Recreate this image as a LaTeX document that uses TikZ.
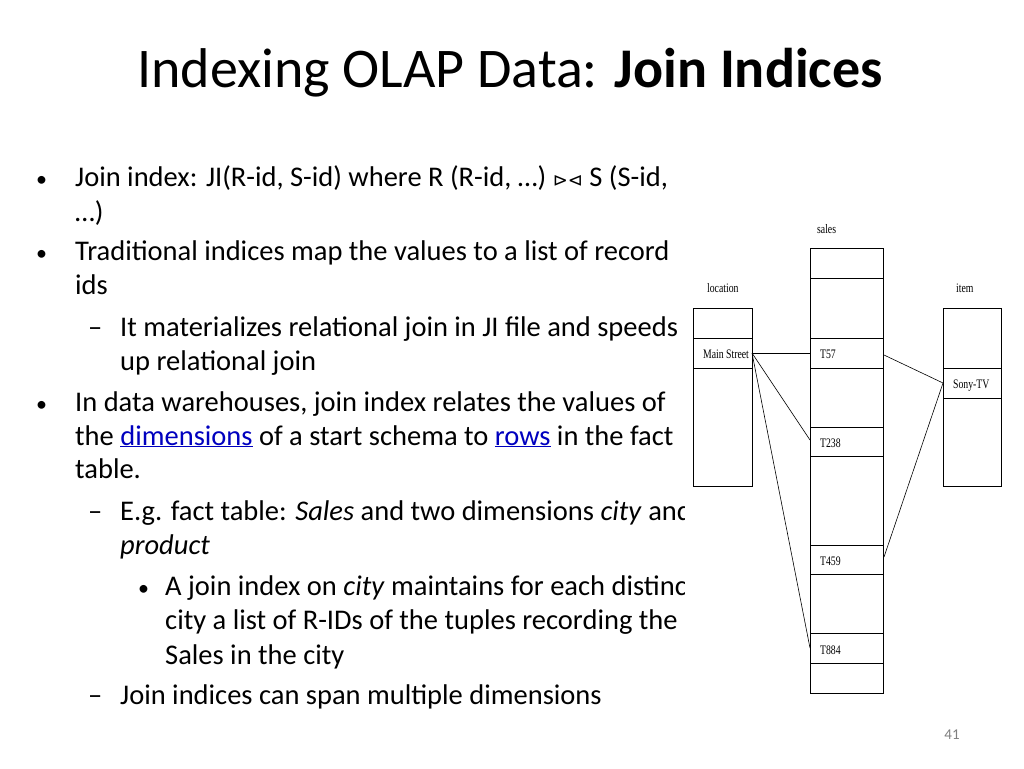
\documentclass[tikz,border=0pt]{standalone}
\usepackage{fontspec}
\setmainfont{Carlito}
\newfontfamily\symf{DejaVu Sans}
\newfontfamily\tabf{Liberation Serif}
\begin{document}
\begin{tikzpicture}[x=1pt,y=-1pt,
  body/.style={anchor=base west,inner sep=0pt,font=\fontsize{28.5}{32}\selectfont},
  bul/.style={anchor=base west,inner sep=0pt,font=\fontsize{22}{26}\selectfont},
  tbl/.style={draw,line width=1.2pt,anchor=north west,inner sep=0pt},
  cell/.style={anchor=base west,inner sep=0pt,font=\tabf\fontsize{13}{15}\selectfont,xscale=0.75},
  lnk/.style={line width=0.6pt}]
\useasboundingbox[fill=white] (0,0) rectangle (1024,768);
\node[anchor=base west,inner sep=0pt,font=\fontsize{56}{64}\selectfont] (title) at (137,87) {Indexing OLAP Data: \textbf{Join Indices}};
% bullets
\node[bul] (b1) at (36,186) {•};
\node[body] (t1) at (75,186) {Join index: JI(R-id, S-id) where R (R-id, …) {\symf\fontsize{18}{20}\selectfont ⊳⊲} S (S-id,};
\node[body] (t1b) at (75,221) {…)};
\node[bul] (b2) at (36,260) {•};
\node[body] (t2) at (75,260) {Traditional indices map the values to a list of record};
\node[body] (t2b) at (75,294) {ids};
\node[body] (d1) at (88,336) {–};
\node[body] (t3) at (120,336) {It materializes relational join in JI file and speeds};
\node[body] (t3b) at (120,370) {up relational join};
\node[bul] (b3) at (36,411) {•};
\node[body] (t4) at (75,411) {In data warehouses, join index relates the values of};
\node[body] (t4b) at (75,445) {the \textcolor{blue!75!black}{\underline{dimensions}} of a start schema to \textcolor{blue!75!black}{\underline{rows}} in the fact};
\node[body] (t4c) at (75,478) {table.};
\node[body] (d2) at (88,520) {–};
\node[body] (t5) at (120,520) {E.g. fact table: \textit{Sales} and two dimensions \textit{city} and};
\node[body] (t5b) at (120,554) {\textit{product}};
\node[bul] (b4) at (138,595) {•};
\node[body] (t6) at (165,595) {A join index on \textit{city} maintains for each distinct};
\node[body] (t6b) at (165,629) {city a list of R-IDs of the tuples recording the};
\node[body] (t6c) at (165,664) {Sales in the city};
\node[body] (d3) at (88,704) {–};
\node[body] (t7) at (120,704) {Join indices can span multiple dimensions};
\node[anchor=base,inner sep=0pt,font=\fontsize{15}{18}\selectfont,text=gray] (pg) at (952,739) {41};
% diagram background covering clipped text
\fill[white] (685,215) rectangle (1012,700);
% sales
\node[tbl,minimum width=73pt,minimum height=445pt] (sales) at (810,248) {};
\foreach \y in {278,338,368,427,456,545,574,633,663} \draw[line width=0.8pt] (810,\y) -- (883,\y);
\node[tbl,line width=0.8pt,minimum width=59pt,minimum height=178pt] (loc) at (693,308) {};
\foreach \y in {338,368} \draw[line width=0.8pt] (693,\y) -- (752,\y);
\node[tbl,line width=0.8pt,minimum width=58pt,minimum height=178pt] (item) at (943,308) {};
\foreach \y in {368,398} \draw[line width=0.8pt] (943,\y) -- (1001,\y);
\node[cell] (ls) at (817,233) {sales};
\node[cell] (ll) at (707,292) {location};
\node[cell] (li) at (956,292) {item};
\node[cell] (ms) at (703,358) {Main Street};
\node[cell] (s57) at (820,358) {T57};
\node[cell] (s238) at (820,447) {T238};
\node[cell] (s459) at (820,565) {T459};
\node[cell] (s884) at (820,654) {T884};
\node[cell] (tv) at (953,388) {Sony-TV};
\coordinate (msr) at (752,353);
\coordinate (a57) at (810,353);
\coordinate (a238) at (810,440);
\coordinate (a884) at (810,648);
\coordinate (tvl) at (943,383);
\coordinate (b57) at (884,355);
\coordinate (b459) at (884,557);
\draw[lnk] (msr) -- (a57);
\draw[lnk] (msr) -- (a238);
\draw[lnk] (msr) -- (a884);
\draw[lnk] (tvl) -- (b57);
\draw[lnk] (tvl) -- (b459);
\end{tikzpicture}
\end{document}
